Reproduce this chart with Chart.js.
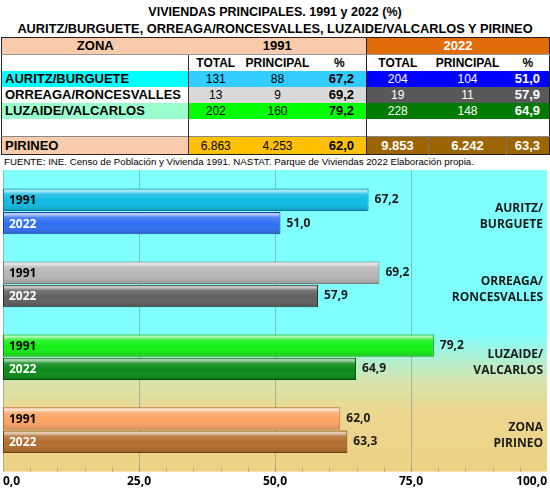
<!DOCTYPE html>
<html lang="es">
<head>
<meta charset="utf-8">
<title>Viviendas principales 1991 y 2022</title>
<script src="https://cdn.jsdelivr.net/npm/chart.js@4.4.1/dist/chart.umd.min.js"></script>
<style>
  body { margin: 0; width: 550px; height: 498px; position: relative; background: #fff; overflow: hidden;
         font-family: 'Liberation Sans', Arial, sans-serif; color: #000; }
  .titulo { position: absolute; left: 0; width: 550px; text-align: center; font-weight: bold; white-space: nowrap; }
  #t1 { top: 5px; font-size: 12.5px; }
  #t2 { top: 21px; font-size: 12.8px; }
  #tabla { position: absolute; top: 37px; left: 1px; width: 548px; border-collapse: collapse; table-layout: fixed;
           border: 1px solid #222; }
  #tabla td { padding: 0; height: 16px; line-height: 16px; font-size: 12px; text-align: center; white-space: nowrap; overflow: hidden; }
  #tabla td.zona { text-align: left; padding-left: 3px; font-weight: bold; font-size: 13px; border-right: 1px solid #333; }
  #tabla td.pct91 { text-align: right; padding-right: 12px; font-weight: bold; font-size: 13px; border-right: 1px solid #222; }
  #tabla td.pct22 { text-align: right; padding-right: 9px; font-weight: bold; font-size: 13px; }
  #tabla tr.cab td { font-weight: bold; font-size: 13px; border-bottom: 1px solid #999; }
  #tabla tr.sub td { font-weight: bold; font-size: 12px; }
  #tabla tr.sub td.pct91, #tabla tr.sub td.pct22 { text-align: center; padding-right: 0; }
  #fuente { position: absolute; top: 156px; left: 4px; font-size: 9.7px; white-space: nowrap; }
  #grafico { position: absolute; top: 168px; left: 0; width: 550px; height: 336px; }
</style>
</head>
<body>
<div class="titulo" id="t1">VIVIENDAS PRINCIPALES. 1991 y 2022 (%)</div>
<div class="titulo" id="t2">AURITZ/BURGUETE, ORREAGA/RONCESVALLES, LUZAIDE/VALCARLOS Y PIRINEO</div>
<table id="tabla">
  <colgroup>
    <col style="width:187px"><col style="width:54px"><col style="width:70px"><col style="width:54px">
    <col style="width:62px"><col style="width:78px"><col style="width:43px">
  </colgroup>
  <tbody id="cuerpo"></tbody>
</table>
<div id="fuente">FUENTE: INE. Censo de Población y Vivienda 1991. NASTAT. Parque de Viviendas 2022 Elaboración propia.</div>
<div id="grafico"><canvas id="lienzo"></canvas></div>

<script>
// datos
const zonas = ['AURITZ/BURGUETE', 'ORREAGA/RONCESVALLES', 'LUZAIDE/VALCARLOS', 'PIRINEO'];
const etiquetasGrafico = [['AURITZ/', 'BURGUETE'], ['ORREAGA/', 'RONCESVALLES'], ['LUZAIDE/', 'VALCARLOS'], ['ZONA', 'PIRINEO']];
const anios = ['1991', '2022'];
const total1991 = [131, 13, 202, 6863];
const principal1991 = [88, 9, 160, 4253];
const pct1991 = [67.2, 69.2, 79.2, 62.0];
const total2022 = [204, 19, 228, 9853];
const principal2022 = [104, 11, 148, 6242];
const pct2022 = [51.0, 57.9, 64.9, 63.3];
const ticksX = [0, 25, 50, 75, 100];

// colores
const fondoZona = ['#00FFFF', '#FFFFFF', '#99FFCC', '#F8CBAD'];
const fondo91 = ['#33CCFF', '#D9D9D9', '#00FF00', '#FFC000'];
const fondo22 = ['#0000FF', '#595959', '#007A00', '#9C6500'];
const barras1991 = ['#0FBBE4', '#B6B6B6', '#12EE12', '#FCA466'];
const bordes1991 = ['#0A7C98', '#7C7C7C', '#0A980A', '#B86C32'];
const barras2022 = ['#2F6EF4', '#5F5F5F', '#078A16', '#B26C2C'];
const bordes2022 = ['#1A3F9E', '#303030', '#044D0C', '#6C3C12'];

const fmtMiles = n => String(n).replace(/\B(?=(\d{3})+(?!\d))/g, '.');
const fmtPct = v => v.toFixed(1).replace('.', ',');

// tabla
const cuerpo = document.getElementById('cuerpo');
cuerpo.innerHTML =
  '<tr class="cab"><td style="background:#F8CBAD">ZONA</td>' +
  '<td colspan="3" style="background:#F8CBAD;border-right:1px solid #222">1991</td>' +
  '<td colspan="3" style="background:#E26B0A;color:#fff">2022</td></tr>' +
  '<tr class="sub"><td class="zona"></td><td>TOTAL</td><td>PRINCIPAL</td><td class="pct91">%</td>' +
  '<td>TOTAL</td><td>PRINCIPAL</td><td class="pct22">%</td></tr>';

zonas.forEach((z, i) => {
  if (i === 3) {
    cuerpo.insertAdjacentHTML('beforeend',
      '<tr style="height:17px"><td class="zona" style="height:17px"></td><td></td><td></td><td class="pct91"></td><td></td><td></td><td class="pct22"></td></tr>');
  }
  const ultima = i === 3;
  const c91 = 'background:' + fondo91[i];
  const c22 = 'background:' + fondo22[i] + ';color:#fff' + (ultima ? ';font-weight:bold;font-size:13px' : '');
  const sep = ultima ? ';border-right:1px solid #777' : '';
  const alto = ultima ? ';height:17px' : '';
  cuerpo.insertAdjacentHTML('beforeend',
    '<tr' + (ultima ? ' style="border-top:1px solid #888"' : '') + '>' +
    '<td class="zona" style="background:' + fondoZona[i] + alto + '">' + z + '</td>' +
    '<td style="' + c91 + '">' + fmtMiles(total1991[i]) + '</td>' +
    '<td style="' + c91 + '">' + fmtMiles(principal1991[i]) + '</td>' +
    '<td class="pct91" style="' + c91 + '">' + fmtPct(pct1991[i]) + '</td>' +
    '<td style="' + c22 + sep + '">' + fmtMiles(total2022[i]) + '</td>' +
    '<td style="' + c22 + sep + '">' + fmtMiles(principal2022[i]) + '</td>' +
    '<td class="pct22" style="' + c22 + '">' + fmtPct(pct2022[i]) + '</td></tr>');
});

// fondo, rejilla, brillo y etiquetas del gráfico
const FUENTE_GRAF = '"Open Sans", Lato, sans-serif';
const extra = 5;

const decoracion = {
  id: 'decoracion',
  beforeDatasetsDraw(chart) {
    const {ctx, chartArea: a, scales: {x}} = chart;
    const top = a.top - extra, bottom = a.bottom + extra;
    const g = ctx.createLinearGradient(0, top, 0, bottom);
    g.addColorStop(0, '#80FFFF');
    g.addColorStop(0.54, '#80FFFF');
    g.addColorStop(0.7, '#D6E4AC');
    g.addColorStop(0.8, '#ECD790');
    g.addColorStop(1, '#EDD283');
    ctx.save();
    ctx.fillStyle = g;
    ctx.fillRect(a.left, top, a.right - a.left, bottom - top);
    ctx.strokeStyle = 'rgba(110,120,120,0.45)';
    ctx.lineWidth = 1;
    ticksX.slice(0, -1).forEach(v => {
      const px = Math.round(x.getPixelForValue(v)) + 0.5;
      ctx.beginPath(); ctx.moveTo(px, top); ctx.lineTo(px, bottom); ctx.stroke();
    });
    for (let v = 5; v < 100; v += 5) {
      const px = Math.round(x.getPixelForValue(v)) + 0.5;
      ctx.beginPath(); ctx.moveTo(px, bottom - 4); ctx.lineTo(px, bottom); ctx.stroke();
    }
    ctx.restore();
  },
  afterDatasetsDraw(chart) {
    const {ctx, chartArea: a, scales: {y}} = chart;
    ctx.save();
    chart.data.datasets.forEach((ds, di) => {
      chart.getDatasetMeta(di).data.forEach((bar, i) => {
        const h = bar.height, t = bar.y - h / 2, l = bar.base, w = bar.x - bar.base;
        const g = ctx.createLinearGradient(0, t, 0, t + h);
        g.addColorStop(0, 'rgba(255,255,255,0.35)');
        g.addColorStop(0.1, 'rgba(255,255,255,0.7)');
        g.addColorStop(0.25, 'rgba(255,255,255,0.15)');
        g.addColorStop(0.55, 'rgba(255,255,255,0)');
        g.addColorStop(1, 'rgba(0,0,0,0.18)');
        ctx.fillStyle = g;
        ctx.fillRect(l + 1, t + 1, w - 2, h - 2);

        ctx.font = 'bold 12px ' + FUENTE_GRAF;
        ctx.textBaseline = 'middle';
        ctx.textAlign = 'left';
        ctx.fillStyle = di === 0 ? '#000' : '#fff';
        ctx.fillText(ds.label, l + 6, bar.y + 1);
        ctx.fillStyle = '#1a1a1a';
        ctx.fillText(fmtPct(ds.data[i]), bar.x + 6, bar.y);
      });
    });
    ctx.font = 'bold 12px ' + FUENTE_GRAF;
    ctx.fillStyle = '#1a1a1a';
    ctx.textAlign = 'right';
    ctx.textBaseline = 'middle';
    etiquetasGrafico.forEach((lineas, i) => {
      const cy = y.getPixelForValue(i) + 5;
      lineas.forEach((txt, k) => ctx.fillText(txt, a.right - 4, cy + (k - (lineas.length - 1) / 2) * 16));
    });
    ctx.restore();
  }
};

new Chart(document.getElementById('lienzo'), {
  type: 'bar',
  data: {
    labels: etiquetasGrafico,
    datasets: [
      { label: anios[0], data: pct1991, backgroundColor: barras1991, borderColor: bordes1991, borderWidth: 1, borderSkipped: false },
      { label: anios[1], data: pct2022, backgroundColor: barras2022, borderColor: bordes2022, borderWidth: 1, borderSkipped: false }
    ]
  },
  options: {
    indexAxis: 'y',
    responsive: true,
    maintainAspectRatio: false,
    animation: false,
    layout: { padding: { left: 3, right: 3, top: 7, bottom: 7 } },
    datasets: { bar: { categoryPercentage: 0.64, barPercentage: 0.96 } },
    plugins: { legend: { display: false }, tooltip: { enabled: false } },
    scales: {
      x: {
        min: 0, max: 100,
        grid: { display: false, drawTicks: false },
        border: { display: false },
        afterFit: s => { s.paddingLeft = 0; s.paddingRight = 0; },
        ticks: {
          stepSize: 25, align: 'inner', padding: 8, color: '#000',
          font: { family: FUENTE_GRAF, size: 12, weight: 'bold' },
          callback: v => fmtPct(v)
        }
      },
      y: { display: false }
    }
  },
  plugins: [decoracion]
});
</script>
</body>
</html>
